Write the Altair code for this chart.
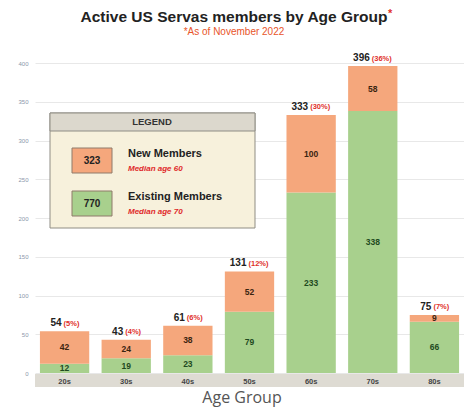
import altair as alt
import pandas as pd

ages = ["20s", "30s", "40s", "50s", "60s", "70s", "80s"]
existing = [12, 19, 23, 79, 233, 338, 66]
new = [42, 24, 38, 52, 100, 58, 9]
pct = ["(5%)", "(4%)", "(6%)", "(12%)", "(30%)", "(36%)", "(7%)"]
series = ["Existing Members", "New Members"]
legend_notes = ["Median age 60", "Median age 70"]
colors = ["#a8d08d", "#f5a77c"]
label_colors = ["#1f4a1f", "#3a2410"]
title_text = "Active US Servas members by Age Group"
subtitle_text = "*As of November 2022"
x_title = "Age Group"

W, H = 429, 310
FONT = "Liberation Sans"
OFF = 2  # plot raised by 2px; decorations shifted back down

rows = []
for a, e, n in zip(ages, existing, new):
    rows.append({"age": a, "series": series[0], "y0": 0, "y1": e, "mid": e / 2, "val": e, "tc": label_colors[0]})
    rows.append({"age": a, "series": series[1], "y0": e, "y1": e + n, "mid": e + n / 2, "val": n, "tc": label_colors[1]})
seg = pd.DataFrame(rows)
tot = pd.DataFrame({"age": ages, "total": [e + n for e, n in zip(existing, new)], "pct": pct})

xaxis = alt.Axis(labelAngle=0, domain=False, ticks=False, labelPadding=4, zindex=2,
                 labelFontSize=7.5, labelFontWeight="bold", labelColor="#444",
                 labelFont=FONT)
yaxis = alt.Axis(values=list(range(0, 401, 50)), domain=False, ticks=False,
                 labelFontSize=6, labelColor="#8a97aa", labelPadding=7, labelOverlap=False,
                 gridColor="#e8e8e8", labelFont=FONT)
xscale = alt.Scale(paddingInner=0.2, paddingOuter=0.08)
yscale = alt.Scale(domain=[0, 400])


def X():
    return alt.X("age:N", sort=ages, title=None, scale=xscale, axis=xaxis)


def Y(field):
    return alt.Y(field, title=None, scale=yscale, axis=yaxis)


one = pd.DataFrame({"k": [0]})

band = alt.Chart(one).mark_rect(color="#dedbd3").encode(
    x=alt.value(0), x2=alt.value(W), y=alt.value(H + 1), y2=alt.value(H + 14))

bars = alt.Chart(seg).mark_bar().encode(
    x=X(), y=Y("y1:Q"), y2="y0:Q",
    color=alt.Color("series:N", scale=alt.Scale(domain=series, range=colors), legend=None))

seg_lbl = alt.Chart(seg).mark_text(fontSize=8.5, fontWeight="bold", font=FONT).encode(
    x=X(), y=Y("mid:Q"), text="val:Q",
    color=alt.Color("tc:N", scale=None, legend=None))

tot_lbl = alt.Chart(tot).mark_text(fontSize=10, fontWeight="bold", font=FONT, align="right",
                                    baseline="bottom", dx=-3, dy=-3, color="#222").encode(
    x=X(), y=Y("total:Q"), text="total:Q")
pct_lbl = alt.Chart(tot).mark_text(fontSize=7.5, fontWeight="bold", font=FONT, align="left",
                                    baseline="bottom", dx=-1, dy=-3.5, color="#e0302a").encode(
    x=X(), y=Y("total:Q"), text="pct:N")

box = alt.Chart(one).mark_rect(fill="#f7f1dc", stroke="#8f8d84", strokeWidth=1).encode(
    x=alt.value(15), x2=alt.value(220), y=alt.value(48 + OFF), y2=alt.value(163 + OFF))
head = alt.Chart(one).mark_rect(fill="#dcd8cd", stroke="#8f8d84", strokeWidth=1).encode(
    x=alt.value(15), x2=alt.value(220), y=alt.value(48 + OFF), y2=alt.value(66 + OFF))
head_t = alt.Chart(one).mark_text(text="LEGEND", fontSize=9.5, fontWeight="bold", font=FONT,
                                  color="#333").encode(x=alt.value(117), y=alt.value(57 + OFF))

sums = [sum(new), sum(existing)]
leg_colors = [colors[1], colors[0]]
leg_names = [series[1], series[0]]
legend_layers = []
for i, (s, c, nm, note) in enumerate(zip(sums, leg_colors, leg_names, legend_notes)):
    top = 83 + OFF + i * 43
    legend_layers.append(alt.Chart(one).mark_rect(fill=c, stroke="#8f7a6a", strokeWidth=1).encode(
        x=alt.value(37), x2=alt.value(77), y=alt.value(top), y2=alt.value(top + 25)))
    legend_layers.append(alt.Chart(one).mark_text(text=str(s), fontSize=10, fontWeight="bold",
                                                  font=FONT, color="#222").encode(
        x=alt.value(57), y=alt.value(top + 12.5)))
    legend_layers.append(alt.Chart(one).mark_text(text=nm, fontSize=11, fontWeight="bold", font=FONT,
                                                  color="#222", align="left").encode(
        x=alt.value(93), y=alt.value(top + 6)))
    legend_layers.append(alt.Chart(one).mark_text(text=note, fontSize=8, fontWeight="bold",
                                                  fontStyle="italic", font=FONT, color="#e02a2a",
                                                  align="left").encode(
        x=alt.value(93), y=alt.value(top + 21)))

title = alt.Chart(one).mark_text(text=title_text, fontSize=15.5, fontWeight="bold", font=FONT,
                                 color="#222").encode(x=alt.value(199), y=alt.value(-48 + OFF))
star = alt.Chart(one).mark_text(text="*", fontSize=11, fontWeight="bold", font=FONT,
                                color="#e0302a", align="left").encode(
    x=alt.value(353), y=alt.value(-51 + OFF))
subtitle = alt.Chart(one).mark_text(text=subtitle_text, fontSize=10, font=FONT,
                                    color="#e8552a").encode(x=alt.value(199), y=alt.value(-33 + OFF))
xtitle = alt.Chart(one).mark_text(text=x_title, fontSize=16, font="Open Sans", color="#555",
                                  baseline="alphabetic").encode(
    x=alt.value(207), y=alt.value(H + 30))

chart = alt.layer(band, bars, seg_lbl, tot_lbl, pct_lbl, box, head, head_t, *legend_layers,
                  title, star, subtitle, xtitle).properties(
    width=W, height=H,
    autosize=alt.AutoSizeParams(type="none"),
    padding={"left": 27, "top": 57 - OFF, "right": 0, "bottom": 33 + OFF},
).configure_view(stroke=None)

chart.save("out.html", embed_options={"renderer": "svg", "actions": False})
